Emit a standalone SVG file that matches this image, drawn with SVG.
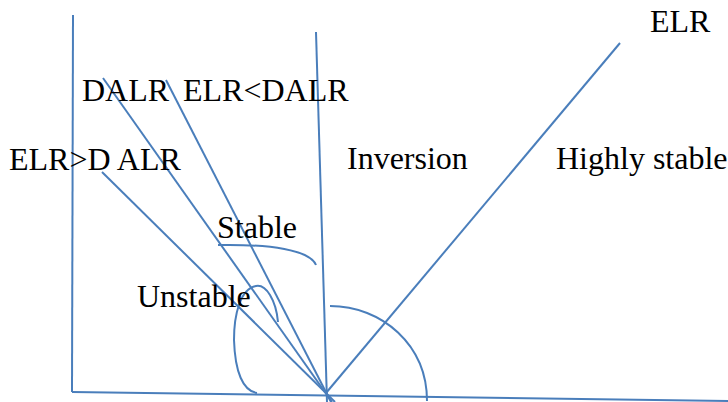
<svg xmlns="http://www.w3.org/2000/svg" width="728" height="402" viewBox="0 0 728 402">
<style>
.ln{stroke:#4A7EBB;stroke-width:2;fill:none;stroke-linecap:butt}
.t{font-family:"Liberation Serif","Times New Roman",serif;font-size:32px;fill:#000}
</style>
<rect width="728" height="402" fill="#fff"/>
<g id="axes">
<line class="ln" x1="73" y1="15" x2="72" y2="392"/>
<line class="ln" x1="72" y1="392" x2="728" y2="401"/>
<line class="ln" x1="316" y1="32" x2="327" y2="402"/>
</g>
<g id="connectors">
<line class="ln" x1="620" y1="43" x2="326" y2="393"/>
<line class="ln" x1="103" y1="78" x2="332" y2="402"/>
<line class="ln" x1="166" y1="80" x2="331" y2="402"/>
<line class="ln" x1="102" y1="172" x2="335" y2="402"/>
<path class="ln" d="M218,245 C270,244 310,250 316,265"/>
<path class="ln" d="M278,322 C276,300 266,284 256,286 C240,289 234,315 234,340 C235,372 243,391 257,393"/>
<path class="ln" d="M330,306 C382,306 427,345 427,401"/>
</g>
<g id="labels">
<text class="t" x="650" y="32">ELR</text>
<text class="t" x="82" y="101">DALR</text>
<text class="t" x="183" y="101">ELR&lt;DALR</text>
<text class="t" x="9" y="170">ELR&gt;D ALR</text>
<text class="t" x="347" y="169">Inversion</text>
<text class="t" x="556" y="169">Highly stable</text>
<text class="t" x="217" y="238">Stable</text>
<text class="t" x="137" y="307">Unstable</text>
</g>
</svg>
